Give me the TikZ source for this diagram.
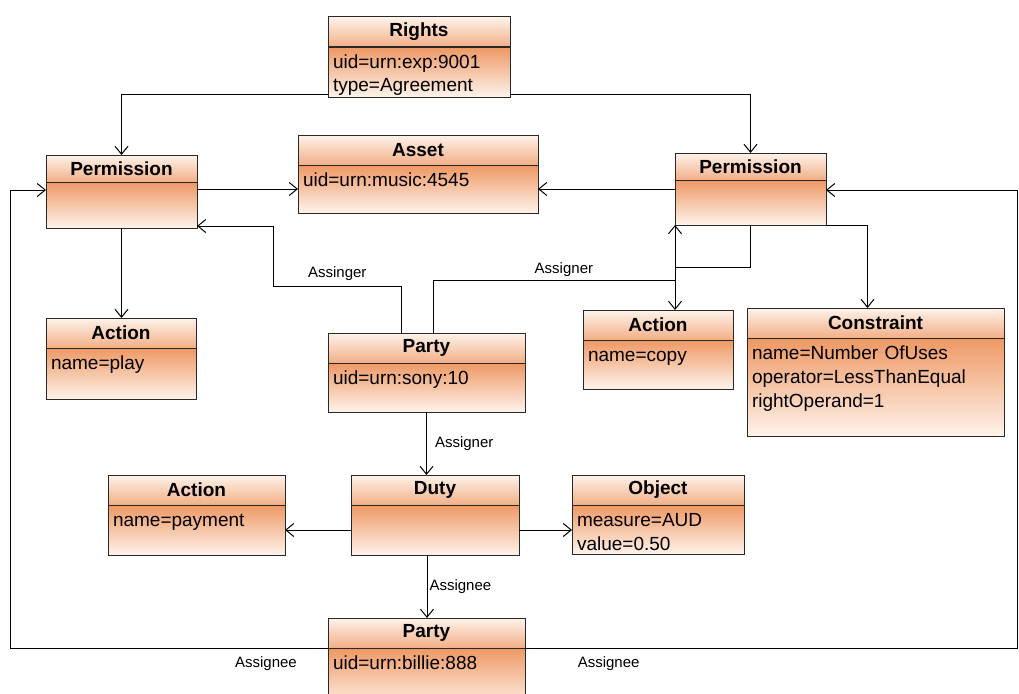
\documentclass[tikz,border=0pt]{standalone}
\usepackage{fontspec}
\setmainfont{Liberation Sans}
\usetikzlibrary{arrows.meta}
\usetikzlibrary{positioning}

\definecolor{umlpale}{RGB}{254,243,235}
\definecolor{umlorange}{RGB}{238,152,100}
\definecolor{umlline}{RGB}{40,40,40}

\tikzset{
  classname/.style={draw=umlline, outer sep=0pt, inner sep=0pt, anchor=north west,
    minimum height=30pt, top color=umlpale, bottom color=umlorange!75!umlpale,
    font=\bfseries\fontsize{19}{22}\selectfont},
  attrs/.style={draw=umlline, outer sep=0pt, inner xsep=5pt, inner ysep=5pt,
    text height=16pt, align=left, top color=umlorange, bottom color=umlpale,
    font=\fontsize{19}{24}\selectfont,
    path picture={\draw[umlline, line width=2.4pt] (path picture bounding box.north west)
      -- (path picture bounding box.north east);}},
  role/.style={font=\fontsize{15}{17}\selectfont, inner sep=2pt},
}

\begin{document}
\begin{tikzpicture}[x=1pt, y=-1pt, line width=1pt, >={Straight Barb[length=8pt,width=13pt]}]

  \useasboundingbox (0,0) rectangle (1019,693);

  \node[classname, minimum width=182pt] (rights) at (328,17) {Rights};
  \node[attrs, text width=172pt, text depth=24pt] (rights') [below=0pt of rights] {uid=urn:exp:9001\\type=Agreement};

  \node[classname, minimum width=151pt, minimum height=27pt] (perm1) at (46,155) {Permission};
  \node[attrs, text width=141pt, text depth=20pt] (perm1') [below=0pt of perm1] {};

  \node[classname, minimum width=240pt] (asset) at (298,135) {Asset};
  \node[attrs, text width=230pt, text depth=22pt] (asset') [below=0pt of asset] {uid=urn:music:4545};

  \node[classname, minimum width=151pt, minimum height=27pt] (perm2) at (675,153) {Permission};
  \node[attrs, text width=141pt, text depth=19pt] (perm2') [below=0pt of perm2] {};

  \node[classname, minimum width=150pt] (play) at (46,318) {Action};
  \node[attrs, text width=140pt, text depth=25pt] (play') [below=0pt of play] {name=play};

  \node[classname, minimum width=197pt] (sony) at (328,333) {Party};
  \node[attrs, text width=187pt, text depth=23pt] (sony') [below=0pt of sony] {uid=urn:sony:10};

  \node[classname, minimum width=150pt] (copy) at (583,310) {Action};
  \node[attrs, text width=140pt, text depth=23pt] (copy') [below=0pt of copy] {name=copy};

  \node[classname, minimum width=257pt] (constr) at (747,308) {Constraint};
  \node[attrs, text width=247pt, text depth=72pt] (constr') [below=0pt of constr] {name=Number OfUses\\operator=LessThanEqual\\rightOperand=1};

  \node[classname, minimum width=177pt] (payment) at (108,475) {Action};
  \node[attrs, text width=167pt, text depth=24pt] (payment') [below=0pt of payment] {name=payment};

  \node[classname, minimum width=168pt] (duty) at (351,475) {Duty};
  \node[attrs, text width=158pt, text depth=24pt] (duty') [below=0pt of duty] {};

  \node[classname, minimum width=172pt] (object) at (572,475) {Object};
  \node[attrs, text width=162pt, text depth=23pt] (object') [below=0pt of object] {measure=AUD\\value=0.50};

  \node[classname, minimum width=197pt] (billie) at (328,618) {Party};
  \node[attrs, text width=187pt, text depth=34pt] (billie') [below=0pt of billie] {uid=urn:billie:888};

  % rights and permissions
  \draw[->] ([yshift=3pt]rights'.south west) -| (perm1.north);
  \draw[->] ([yshift=3pt]rights'.south east) -| (perm2.north);
  \draw[->] (perm1'.east |- asset'.west) -- (asset'.west);
  \draw[->] (perm2'.west |- asset'.east) -- (asset'.east);
  \draw[->] (perm1'.south) -- (perm1'.south |- play.north);
  \draw[->] (perm2'.south) |- ([xshift=17pt,yshift=43pt]copy.north) -- ([xshift=17pt]copy.north);
  \draw[->] (perm2'.south east) -| ([xshift=-8pt]constr.north);

  % assigner
  \draw[->] ([xshift=-25pt]sony.north) |- (273,286) node[role, above=3pt, pos=0.75] {Assinger}
            |- ([yshift=2pt]perm1'.south east);
  \draw[->] ([xshift=7pt]sony.north) |- ++(241.5,-53) node[role, above=1pt, pos=0.77] {Assigner}
            -- (perm2'.south west);
  \draw[->] (sony'.south) -- (sony'.south |- duty.north) node[role, right=6pt, midway] {Assigner};

  % duty
  \draw[->] (duty'.west) -- (payment'.east);
  \draw[->] (duty'.east) -- (duty'.east -| object'.west);
  \draw[->] ([xshift=-8pt]duty'.south) -- ([xshift=-8pt]duty'.south |- billie.north)
            node[role, right, midway] {Assignee};

  % assignee round the outside
  \coordinate (leftside) at (10,0);
  \coordinate (rightside) at (1017,0);
  \draw[->] (billie'.north west) -- (billie'.north west -| leftside) node[role, below=6pt, pos=0.195] {Assignee}
            |- ([yshift=-8pt]perm1'.north west);
  \draw[->] (billie'.north east) -- (billie'.north east -| rightside) node[role, below=6pt, pos=0.17] {Assignee}
            |- ([yshift=-10pt]perm2'.north east);

\end{tikzpicture}
\end{document}
